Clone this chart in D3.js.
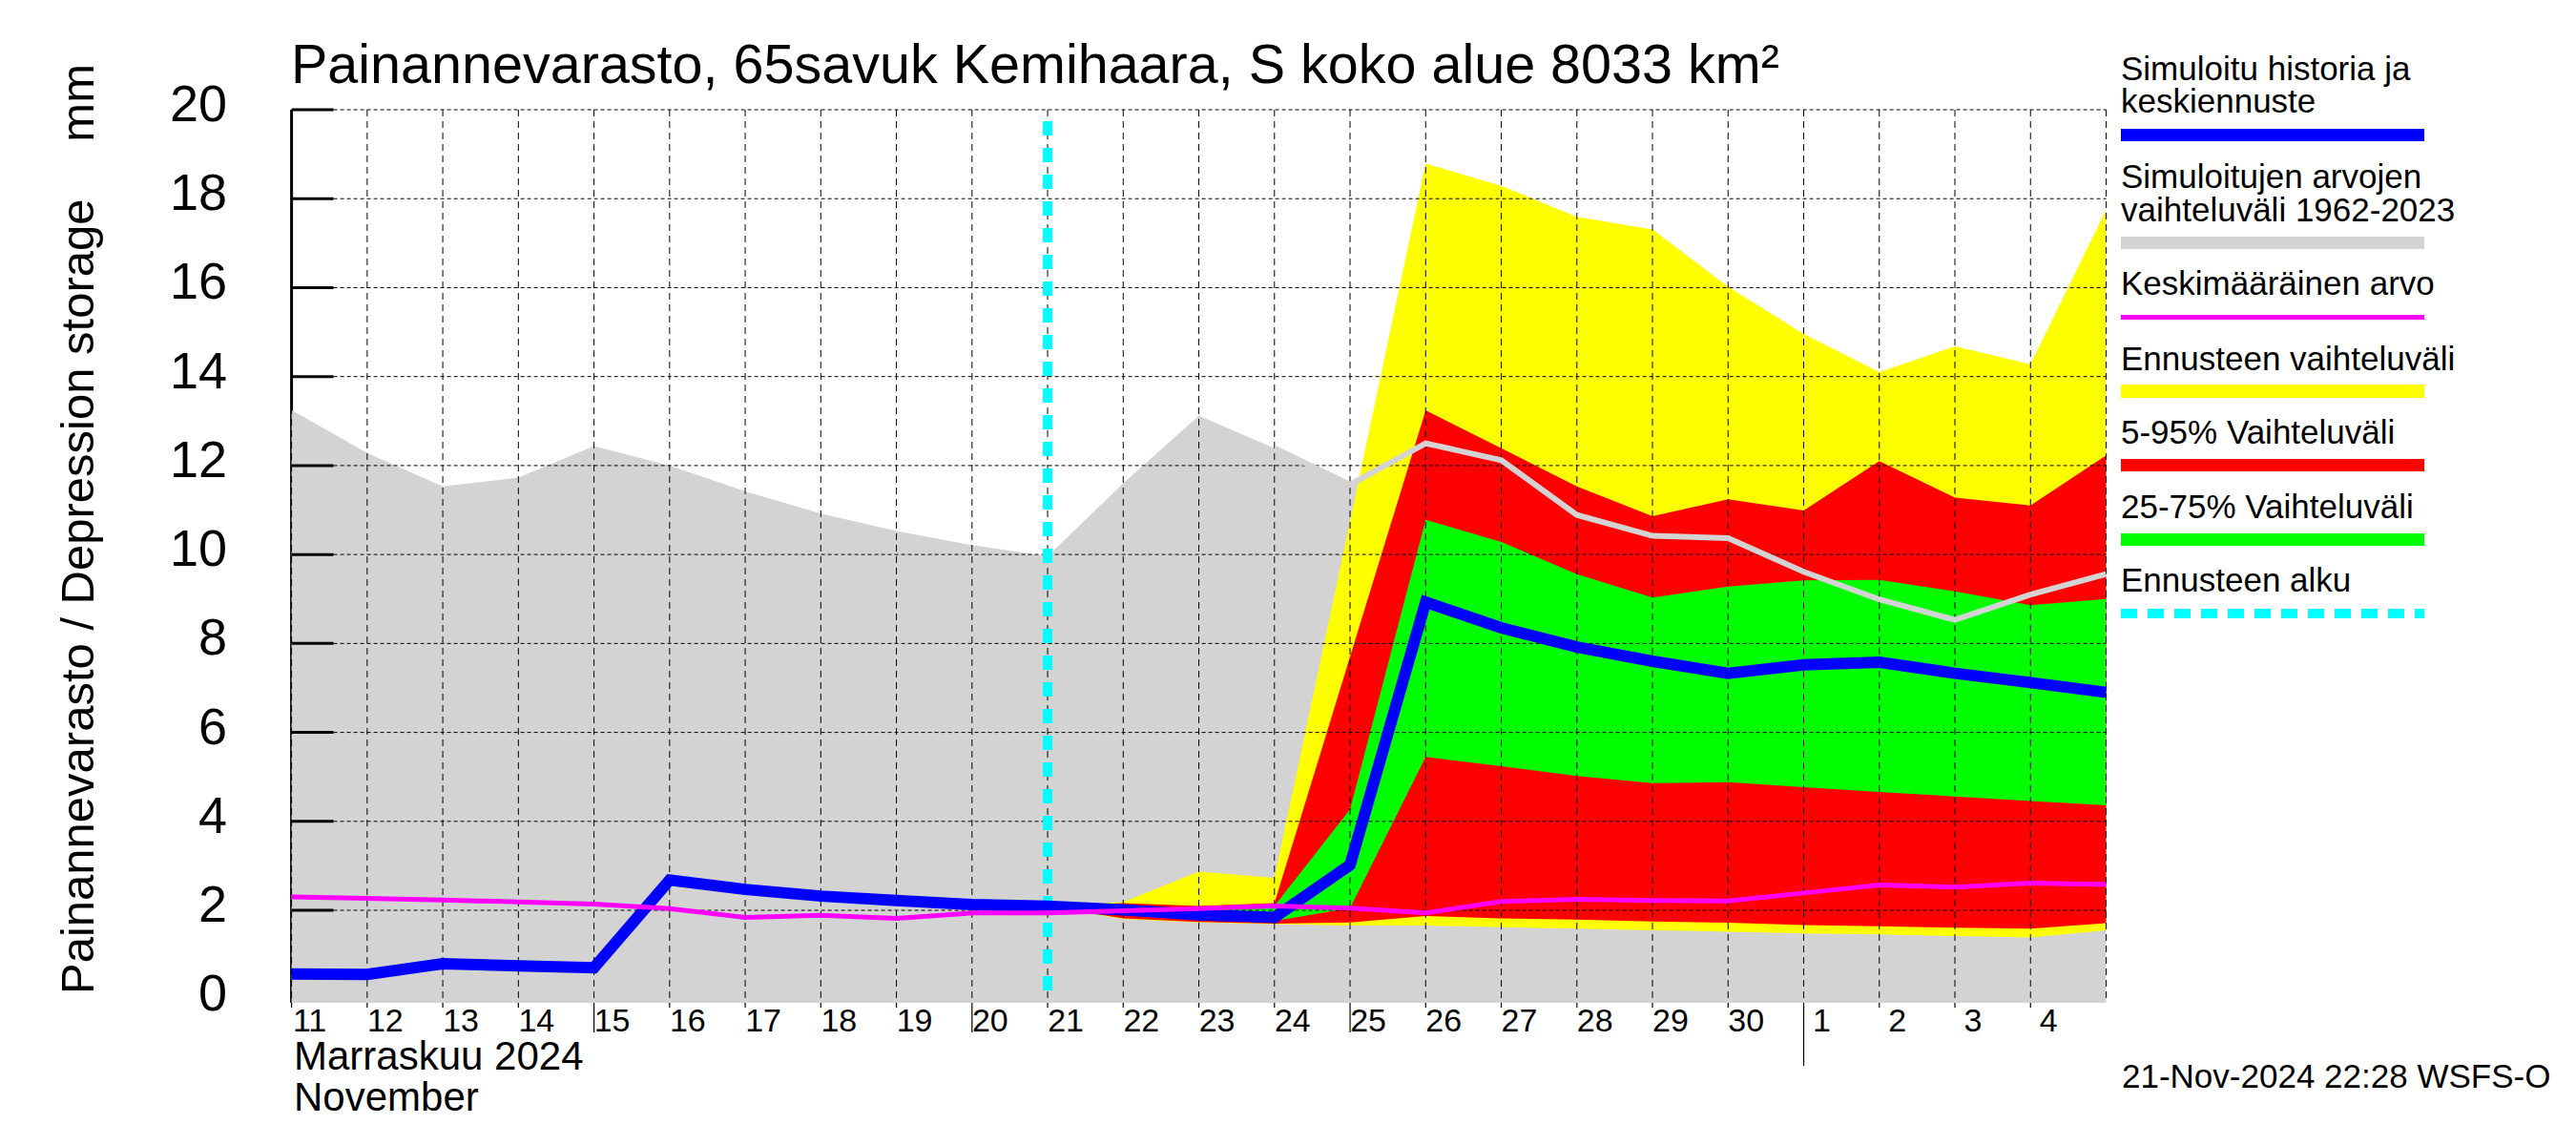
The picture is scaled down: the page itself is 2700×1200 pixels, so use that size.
<!DOCTYPE html>
<html><head><meta charset="utf-8">
<script src="https://cdn.jsdelivr.net/npm/d3@7/dist/d3.min.js"></script>
<style>
html,body{margin:0;padding:0;background:#fff;}
svg{display:block;font-family:"Liberation Sans",Arial,Helvetica,sans-serif;}
</style></head><body>
<svg id="chart" width="2700" height="1200"></svg>
<script>
// ---- data ----
const START=Date.UTC(2024,10,11);           // 11 Nov 2024, first point
const dayLabels=['11','12','13','14','15','16','17','18','19','20','21','22','23','24','25','26','27','28','29','30','1','2','3','4'];
const longTicks=['15','20','25'];
const monthTick='1';
const yTicks=[0,2,4,6,8,10,12,14,16,18,20];

// simulated history range 1962-2023 (upper edge), one value per day 11.11 .. 5.12
const histMax=[13.25,12.28,11.53,11.73,12.44,12.0,11.42,10.92,10.53,10.21,9.96,11.6,13.12,12.39,11.57,12.5,12.12,10.89,10.42,10.37,9.61,8.99,8.53,9.1,9.56];
// simulated history + median forecast
const median=[0.57,0.56,0.80,0.75,0.71,2.68,2.47,2.32,2.22,2.13,2.09,2.01,1.90,1.84,3.02,8.93,8.35,7.92,7.6,7.33,7.52,7.58,7.33,7.12,6.9];
// long-term mean
const mean=[2.30,2.27,2.23,2.19,2.14,2.04,1.84,1.89,1.82,1.94,1.94,1.99,2.04,2.10,2.05,1.94,2.2,2.25,2.22,2.21,2.39,2.57,2.52,2.61,2.58];

// forecast bands, starting at index fcStart (21.11)
const fcStart=10;
const fcMax=[2.09,2.19,2.87,2.73,10.75,18.79,18.29,17.59,17.31,16.02,14.96,14.1,14.68,14.28,17.75];
const fcMin=[2.09,1.80,1.73,1.69,1.66,1.66,1.62,1.59,1.55,1.52,1.48,1.46,1.42,1.39,1.55];
const p95=[2.09,2.16,2.10,2.16,7.7,13.24,12.39,11.53,10.86,11.24,10.99,12.1,11.28,11.1,12.23];
const p5=[2.09,1.82,1.74,1.70,1.73,1.87,1.82,1.79,1.75,1.72,1.67,1.64,1.61,1.59,1.71];
const p75=[2.09,2.05,2.0,2.1,4.27,10.78,10.28,9.56,9.03,9.28,9.42,9.43,9.17,8.86,9.0];
const p25=[2.09,1.92,1.82,1.76,2.05,5.45,5.24,5.02,4.86,4.88,4.77,4.66,4.56,4.46,4.36];

const titleText='Painannevarasto, 65savuk Kemihaara, S koko alue 8033 km²';
const yLabel='Painannevarasto / Depression storage';
const yUnit='mm';
const monthLines=['Marraskuu 2024','November'];
const stamp='21-Nov-2024 22:28 WSFS-O';

const C={blue:'#0000ff',grey:'#d3d3d3',mag:'#ff00ff',yel:'#ffff00',red:'#ff0000',grn:'#00ff00',cyan:'#00ffff'};
const legend=[
  {lines:['Simuloitu historia ja','keskiennuste'],color:C.blue},
  {lines:['Simuloitujen arvojen','vaihteluväli 1962-2023'],color:C.grey},
  {lines:['Keskimääräinen arvo'],color:C.mag},
  {lines:['Ennusteen vaihteluväli'],color:C.yel},
  {lines:['5-95% Vaihteluväli'],color:C.red},
  {lines:['25-75% Vaihteluväli'],color:C.grn},
  {lines:['Ennusteen alku'],color:C.cyan,dash:true}
];
// legend layout: text baselines and bar [top,height] per entry
const legBase=[[84,118],[197,232],[309],[388],[465],[543],[620]];
const legBar=[[135,13],[248,13],[330,5],[403,14],[481,13],[559,13],[638,10]];

// ---- scales ----
const day=i=>d3.utcDay.offset(START,i);
const x=d3.scaleUtc().domain([day(0),day(24)]).range([305.6,2207.5]);
const y=d3.scaleLinear().domain([-0.08,20]).range([1051,115]);
const X0=x.range()[0], X1=x.range()[1], YB=y.range()[0], YT=y(20);

const svg=d3.select('#chart');
const gAxis=svg.append('g'), gArea=svg.append('g'), gGrid=svg.append('g'),
      gCyan=svg.append('g'), gLine=svg.append('g'), gText=svg.append('g'), gLeg=svg.append('g');

// y axis line (sits under the grey area)
gAxis.append('line').attr('x1',X0).attr('x2',X0).attr('y1',YT).attr('y2',YB)
  .attr('stroke','#000').attr('stroke-width',3);

// areas
const hist=histMax.map((v,i)=>({t:day(i),v}));
gArea.append('path').datum(hist)
  .attr('d',d3.area().x(d=>x(d.t)).y0(y(y.domain()[0])).y1(d=>y(d.v)))
  .attr('fill',C.grey);
function band(lo,hi,col){
  const data=lo.map((v,i)=>({t:day(fcStart+i),lo:v,hi:hi[i]}));
  gArea.append('path').datum(data)
    .attr('d',d3.area().x(d=>x(d.t)).y0(d=>y(d.lo)).y1(d=>y(d.hi)))
    .attr('fill',col);
}
band(fcMin,fcMax,C.yel);
band(p5,p95,C.red);
band(p25,p75,C.grn);

// grid
yTicks.filter(v=>v>0).forEach(v=>{
  gGrid.append('line').attr('x1',X0+44).attr('x2',X1).attr('y1',y(v)).attr('y2',y(v))
    .attr('stroke','#000').attr('stroke-width',1).attr('stroke-dasharray','4,3');
  gGrid.append('line').attr('x1',X0).attr('x2',X0+44).attr('y1',y(v)).attr('y2',y(v))
    .attr('stroke','#000').attr('stroke-width',3);
});
d3.range(0,25).forEach(i=>{
  gGrid.append('line').attr('x1',x(day(i))).attr('x2',x(day(i))).attr('y1',YT).attr('y2',YB)
    .attr('stroke','#000').attr('stroke-width',1).attr('stroke-dasharray','7,5');
});
dayLabels.forEach((lab,i)=>{
  const xx=x(day(i));
  const len=lab===monthTick&&i>0?66:(longTicks.includes(lab)?31:5);
  gGrid.append('line').attr('x1',xx).attr('x2',xx).attr('y1',YB).attr('y2',YB+len)
    .attr('stroke','#000').attr('stroke-width',1.2);
  gText.append('text').attr('x',xx+19).attr('y',1081).attr('text-anchor','middle')
    .attr('font-size',34).text(lab);
});

// forecast start
const xf=x(day(fcStart));
gCyan.append('line').attr('x1',xf).attr('x2',xf).attr('y1',127).attr('y2',1045)
  .attr('stroke',C.cyan).attr('stroke-width',10).attr('stroke-dasharray','15,13');

// lines
const ln=d3.line().x(d=>x(d.t)).y(d=>y(d.v));
gLine.append('path').datum(hist.slice(13)).attr('d',ln).attr('fill','none')
  .attr('stroke',C.grey).attr('stroke-width',6);
gLine.append('path').datum(median.map((v,i)=>({t:day(i),v}))).attr('d',ln).attr('fill','none')
  .attr('stroke',C.blue).attr('stroke-width',12);
gLine.append('path').datum(mean.map((v,i)=>({t:day(i),v}))).attr('d',ln).attr('fill','none')
  .attr('stroke',C.mag).attr('stroke-width',5);

// texts
yTicks.forEach(v=>{
  gText.append('text').attr('x',238).attr('y',y(v)+12).attr('text-anchor','end')
    .attr('font-size',54).text(v);
});
gText.append('text').attr('x',305).attr('y',87).attr('font-size',57.5).text(titleText);
gText.append('text').attr('transform','translate(98,1042) rotate(-90)')
  .attr('font-size',49).text(yLabel);
gText.append('text').attr('transform','translate(98,67) rotate(-90)')
  .attr('text-anchor','end').attr('font-size',49).text(yUnit);
monthLines.forEach((s,i)=>gText.append('text').attr('x',308).attr('y',1121+i*43)
  .attr('font-size',42).text(s));
gText.append('text').attr('x',2224).attr('y',1140).attr('font-size',35).text(stamp);

// legend
legend.forEach((e,k)=>{
  e.lines.forEach((s,j)=>gLeg.append('text').attr('x',2223).attr('y',legBase[k][j])
    .attr('font-size',35).text(s));
  const [t,h]=legBar[k];
  if(e.dash){
    gLeg.append('line').attr('x1',2223).attr('x2',2541).attr('y1',t+h/2).attr('y2',t+h/2)
      .attr('stroke',e.color).attr('stroke-width',h).attr('stroke-dasharray','17,11');
  } else {
    gLeg.append('rect').attr('x',2223).attr('y',t).attr('width',318).attr('height',h).attr('fill',e.color);
  }
});
</script>
</body></html>
